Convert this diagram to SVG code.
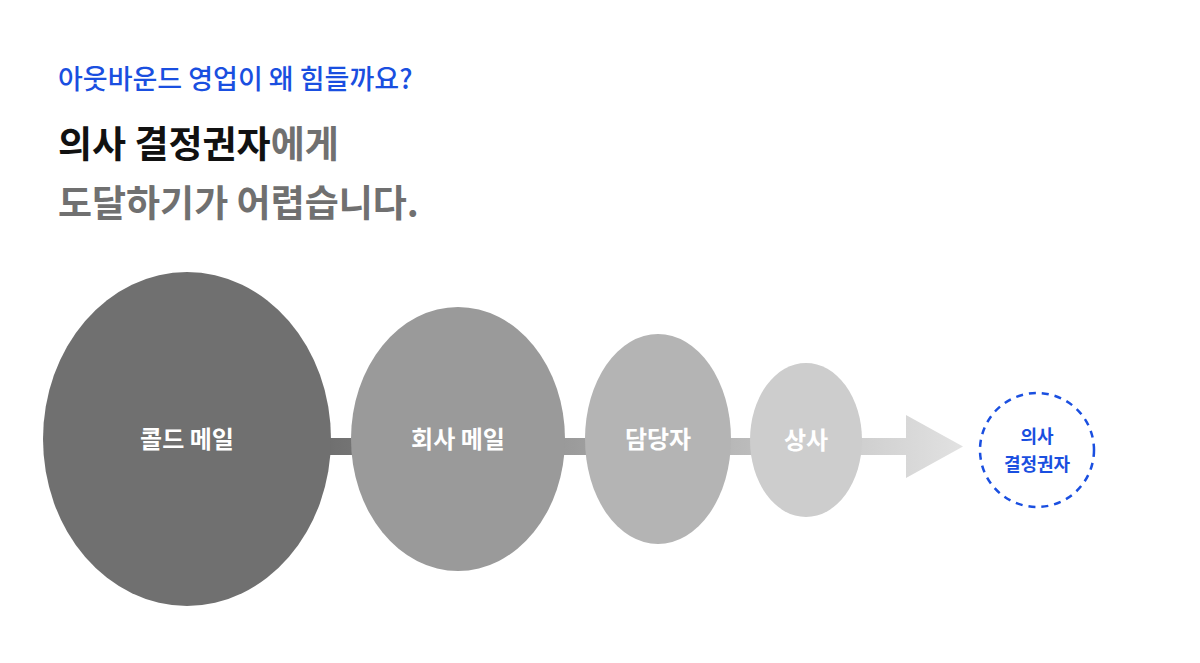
<svg xmlns="http://www.w3.org/2000/svg" width="1200" height="663" viewBox="0 0 1200 663">
<style>
text{font-family:"Noto Sans CJK KR","Noto Sans",sans-serif;font-weight:700}
.lbl{fill:#fff;font-size:24px;text-anchor:middle}
</style>
<defs>
<linearGradient id="g" x1="320" y1="0" x2="965" y2="0" gradientUnits="userSpaceOnUse">
<stop offset="0" stop-color="#6e6e6e"/><stop offset="1" stop-color="#e2e2e2"/>
</linearGradient>
</defs>
<rect width="1200" height="663" fill="#fff"/>
<text x="58" y="89" font-size="27" style="font-weight:500" fill="#1a4fe0">아웃바운드 영업이 왜 힘들까요?</text>
<text x="58" y="158" font-size="37" fill="#111">의사 결정권자<tspan fill="#707070">에게</tspan></text>
<text x="58" y="217" font-size="37" fill="#707070">도달하기가 어렵습니다.</text>
<g id="connectors">
<path d="M320 438 H906 V415 L963 446.5 L906 478 V455 H320 Z" fill="url(#g)"/>
</g>
<g id="n1"><ellipse cx="187" cy="439" rx="144" ry="167" fill="#707070"/><text class="lbl" x="187" y="448">콜드 메일</text></g>
<g id="n2"><ellipse cx="458" cy="439" rx="107" ry="132" fill="#9a9a9a"/><text class="lbl" x="458" y="448">회사 메일</text></g>
<g id="n3"><ellipse cx="658" cy="439" rx="73" ry="105" fill="#b4b4b4"/><text class="lbl" x="658" y="448">담당자</text></g>
<g id="n4"><ellipse cx="806" cy="440" rx="56" ry="77" fill="#cdcdcd"/><text class="lbl" x="806" y="449">상사</text></g>
<g id="n5"><circle cx="1037" cy="450" r="57" fill="none" stroke="#1a4fe0" stroke-width="2.5" stroke-dasharray="7 6"/>
<text x="1037" y="443" font-size="18" fill="#1a4fe0" text-anchor="middle">의사</text>
<text x="1037" y="471" font-size="18" fill="#1a4fe0" text-anchor="middle">결정권자</text></g>
</svg>
